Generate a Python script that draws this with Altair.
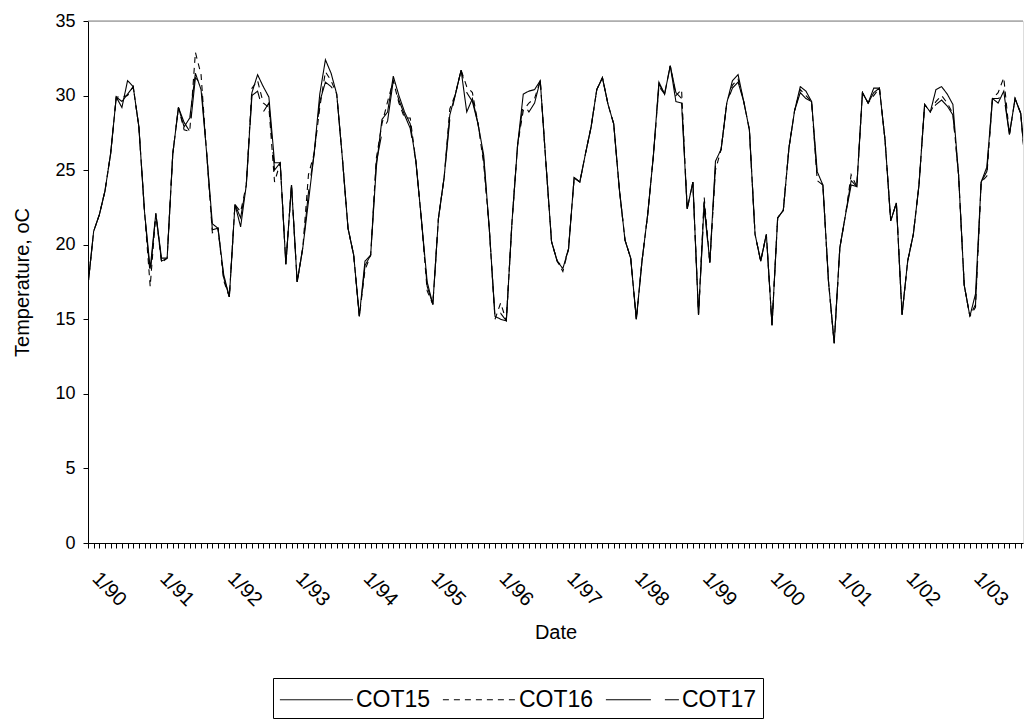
import altair as alt
import pandas as pd

# ---- data ----
series_names = ["COT15", "COT16", "COT17"]
year_labels = ["1/90", "1/91", "1/92", "1/93", "1/94", "1/95", "1/96",
               "1/97", "1/98", "1/99", "1/00", "1/01", "1/02", "1/03"]

cot15 = [17.3, 20.9, 22.0, 23.6, 26.1, 29.9, 29.2, 31.0, 30.6, 27.9, 22.2, 18.4,
         22.1, 18.9, 19.1, 26.1, 29.2, 27.9, 28.5, 31.5, 30.4, 26.1, 21.4, 21.1,
         18.0, 16.5, 22.7, 21.2, 24.0, 30.2, 31.4, 30.6, 29.9, 25.5, 25.5, 18.7,
         24.0, 17.5, 19.8, 22.9, 26.1, 30.1, 32.4, 31.5, 30.1, 25.8, 21.1, 19.3,
         15.2, 18.9, 19.3, 25.2, 28.4, 28.9, 31.3, 30.0, 28.9, 28.1, 25.6, 21.6,
         17.5, 16.0, 21.8, 24.5, 28.7, 30.1, 31.7, 28.9, 29.8, 28.1, 26.0, 21.0,
         15.2, 15.0, 14.9, 21.5, 26.7, 30.1, 30.3, 30.4, 31.0, 25.5, 20.2, 18.9,
         18.4, 19.7, 24.5, 24.2, 26.1, 27.9, 30.4, 31.2, 29.4, 28.1, 23.7, 20.3,
         19.1, 15.0, 18.9, 22.0, 25.9, 30.9, 30.1, 32.0, 29.6, 29.5, 22.4, 24.2,
         15.3, 22.8, 18.8, 25.6, 26.4, 29.5, 31.0, 31.4, 29.6, 27.7, 20.7, 18.9,
         20.7, 14.6, 21.8, 22.3, 26.5, 29.0, 30.6, 30.3, 29.6, 24.9, 24.0, 17.5,
         13.4, 19.8, 22.0, 24.3, 23.9, 30.2, 29.5, 30.5, 30.5, 27.0, 21.6, 22.8,
         15.3, 18.9, 20.7, 24.0, 29.4, 28.9, 30.4, 30.6, 30.1, 29.4, 24.7, 17.3,
         15.2, 16.7, 24.2, 25.2, 29.8, 29.5, 30.3, 27.4, 29.8, 28.8, 24.5]

cot16 = [17.3, 20.9, 22.0, 23.6, 26.1, 29.9, 29.9, 30.0, 30.6, 27.9, 22.2, 17.2,
         22.1, 18.8, 19.1, 26.1, 29.2, 27.7, 27.6, 32.9, 31.4, 26.1, 20.8, 21.1,
         17.6, 16.5, 22.7, 22.2, 24.0, 30.5, 31.0, 29.5, 29.2, 24.2, 25.5, 18.7,
         24.0, 17.5, 19.8, 24.7, 26.1, 29.2, 31.6, 31.0, 30.1, 25.8, 21.1, 19.3,
         15.2, 18.3, 19.3, 25.8, 28.1, 29.6, 31.0, 29.5, 28.5, 28.5, 25.6, 21.6,
         16.9, 16.0, 21.8, 24.5, 29.1, 30.1, 31.7, 30.6, 30.2, 28.1, 25.4, 21.0,
         15.0, 16.1, 14.9, 21.5, 26.7, 29.0, 29.5, 29.8, 31.0, 25.5, 20.2, 18.9,
         18.2, 19.7, 24.5, 24.2, 26.1, 27.9, 30.4, 31.2, 29.4, 28.1, 23.7, 20.3,
         19.1, 15.0, 18.9, 22.0, 25.9, 30.6, 30.1, 32.0, 30.0, 30.4, 22.4, 24.2,
         15.3, 23.2, 18.8, 25.0, 26.4, 29.5, 30.7, 31.1, 29.6, 27.7, 20.7, 18.9,
         20.7, 14.6, 21.8, 22.3, 26.5, 29.0, 30.4, 30.0, 29.6, 24.3, 24.0, 17.5,
         13.4, 19.8, 22.0, 24.7, 23.9, 30.2, 29.5, 30.0, 30.5, 27.0, 21.6, 22.8,
         15.3, 18.9, 20.7, 24.0, 29.4, 28.9, 29.6, 30.0, 29.5, 28.8, 24.7, 17.3,
         15.2, 15.8, 24.2, 24.6, 29.8, 30.2, 31.2, 27.4, 29.8, 28.8, 24.5]

cot17 = [17.3, 20.9, 22.0, 23.6, 26.1, 29.9, 29.6, 30.1, 30.6, 27.9, 22.2, 18.0,
         22.1, 19.1, 19.1, 26.1, 29.2, 28.2, 27.6, 31.2, 30.8, 26.1, 21.0, 21.1,
         17.8, 16.5, 22.7, 21.8, 24.0, 30.0, 30.3, 28.9, 29.5, 25.0, 25.5, 18.7,
         24.0, 17.5, 19.8, 23.5, 26.1, 29.6, 30.9, 30.6, 30.1, 25.8, 21.1, 19.3,
         15.2, 18.6, 19.3, 25.5, 27.5, 28.3, 31.0, 29.7, 28.7, 27.8, 25.6, 21.6,
         17.2, 16.0, 21.8, 24.5, 28.4, 30.1, 31.7, 30.2, 29.6, 28.1, 25.7, 21.0,
         15.1, 15.4, 14.9, 21.5, 26.7, 29.5, 28.9, 29.5, 31.0, 25.5, 20.2, 18.9,
         18.5, 19.7, 24.5, 24.2, 26.1, 27.9, 30.4, 31.2, 29.4, 28.1, 23.7, 20.3,
         19.1, 15.0, 18.9, 22.0, 25.9, 30.8, 30.1, 32.0, 30.2, 29.8, 22.4, 24.2,
         15.3, 22.5, 18.8, 25.3, 26.4, 29.5, 30.5, 30.9, 29.6, 27.7, 20.7, 18.9,
         20.7, 14.6, 21.8, 22.3, 26.5, 29.0, 30.2, 29.8, 29.6, 24.5, 24.0, 17.5,
         13.4, 19.8, 22.0, 24.0, 23.9, 30.2, 29.5, 30.2, 30.5, 27.0, 21.6, 22.8,
         15.3, 18.9, 20.7, 24.0, 29.4, 28.9, 29.4, 29.7, 29.3, 28.7, 24.7, 17.3,
         15.2, 16.0, 24.2, 24.9, 29.8, 29.8, 30.0, 27.4, 29.8, 28.8, 24.5]

months = list(range(len(cot15)))

rows = []
for name, vals in zip(series_names, [cot15, cot16, cot17]):
    for m, v in zip(months, vals):
        rows.append({"month": m, "series": name, "value": v})
df = pd.DataFrame(rows)

FONT = "Liberation Sans"
W, H = 935, 522

label_array = "[" + ",".join("'" + s + "'" for s in year_labels) + "]"
label_expr = f"datum.value % 12 == 0 ? {label_array}[datum.value / 12] : ''"

x_axis = alt.Axis(
    values=list(range(0, 166)),
    labelExpr=label_expr,
    labelAngle=45, labelAlign="left", labelBaseline="top",
    labelPadding=20, labelOffset=14, labelOverlap=False,
    labelFont=FONT, labelFontSize=20, labelColor="black",
    tickSize=5, tickColor="black", domainColor="black", grid=False,
    title="Date", titleFont=FONT, titleFontSize=20, titleFontWeight="normal",
    titleColor="black", titleY=89, titleBaseline="middle",
)
y_axis = alt.Axis(
    values=list(range(0, 36, 5)),
    labelFont=FONT, labelFontSize=18, labelColor="black", labelPadding=8,
    tickSize=5, tickColor="black", domainColor="black", grid=False,
    title="Temperature, oC", titleFont=FONT, titleFontSize=20,
    titleFontWeight="normal", titleColor="black",
    titleX=-66, titleY=261, titleBaseline="middle", titleAlign="center",
)

# legend symbol: a long horizontal stroke (unit path scaled by the symbol size)
legend = alt.Legend(
    orient="none", legendX=185, legendY=657, direction="horizontal",
    title=None, symbolType="M-1,0H4", symbolSize=853,
    symbolStrokeColor="black", symbolStrokeWidth=1, symbolFillColor="transparent",
    labelFont=FONT, labelFontSize=23, labelColor="black",
    labelOffset=46, columnPadding=9,
    strokeColor="black", fillColor="white", padding=6, cornerRadius=0,
)

lines = alt.Chart(df).mark_line(color="black", strokeWidth=1.1, clip=True).encode(
    x=alt.X("month:Q", scale=alt.Scale(domain=[0, 165.4], nice=False, zero=False), axis=x_axis),
    y=alt.Y("value:Q", scale=alt.Scale(domain=[0, 35], nice=False), axis=y_axis),
    strokeDash=alt.StrokeDash(
        "series:N",
        scale=alt.Scale(domain=series_names, range=[[1, 0], [6, 5], [45, 14]]),
        legend=legend,
    ),
    detail="series:N",
)

top_border = alt.Chart(pd.DataFrame({"y": [35]})).mark_rule(
    color="#808080", strokeWidth=1).encode(y=alt.Y("y:Q"))

chart = alt.layer(lines, top_border).properties(
    width=W, height=H,
    autosize=alt.AutoSizeParams(type="none"),
    padding={"left": 88, "top": 21, "right": 1, "bottom": 176},
).configure_view(stroke=None).configure(background="white")

chart.save("out.html", embed_options={"renderer": "svg", "actions": False})
